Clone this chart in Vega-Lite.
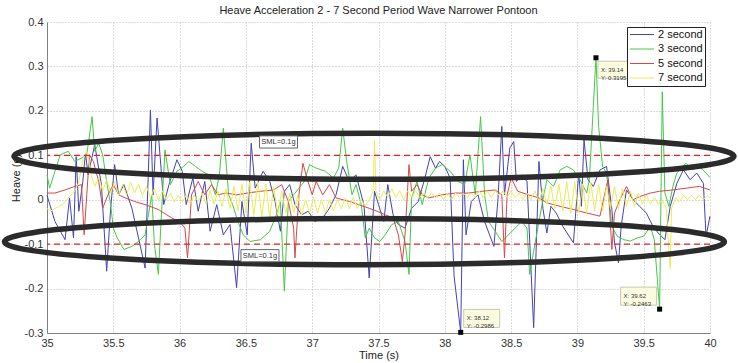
{
 "$schema": "https://vega.github.io/schema/vega-lite/v6.json",
 "width": 663, "height": 311,
 "autosize": {"type": "none"},
 "padding": {"left": 47, "top": 22, "right": 28, "bottom": 30},
 "background": "white",
 "title": {"text": "Heave Acceleration 2 - 7 Second Period Wave Narrower Pontoon", "fontSize": 11, "fontWeight": "normal", "font": "Liberation Sans", "color": "#222", "offset": 0},
 "config": {"view": {"stroke": null}, "font": "Liberation Sans",
  "axis": {"gridDash": [1, 2], "gridColor": "#b8b8b8", "gridWidth": 1, "domainColor": "#808080", "ticks": false, "labelFontSize": 11, "labelColor": "#333", "labelPadding": 4, "titleFontSize": 11, "titleFontWeight": "normal", "titleColor": "#222", "labelFont": "Liberation Sans", "titleFont": "Liberation Sans"}},
 "datasets": {
  "lines": [
{"s":"2 second","t":35.0,"a":0.01},{"s":"2 second","t":35.06,"a":-0.049},{"s":"2 second","t":35.136,"a":-0.09},{"s":"2 second","t":35.17,"a":0.004},{"s":"2 second","t":35.2,"a":-0.086},{"s":"2 second","t":35.22,"a":0.097},{"s":"2 second","t":35.24,"a":-0.026},{"s":"2 second","t":35.27,"a":0.041},{"s":"2 second","t":35.29,"a":0.105},{"s":"2 second","t":35.31,"a":0.056},{"s":"2 second","t":35.36,"a":0.124},{"s":"2 second","t":35.41,"a":0.034},{"s":"2 second","t":35.45,"a":-0.161},{"s":"2 second","t":35.48,"a":-0.019},{"s":"2 second","t":35.51,"a":0.079},{"s":"2 second","t":35.54,"a":0.011},{"s":"2 second","t":35.58,"a":0.034},{"s":"2 second","t":35.64,"a":-0.019},{"s":"2 second","t":35.69,"a":-0.086},{"s":"2 second","t":35.74,"a":-0.154},{"s":"2 second","t":35.78,"a":0.202},{"s":"2 second","t":35.8,"a":0.011},{"s":"2 second","t":35.83,"a":0.184},{"s":"2 second","t":35.86,"a":0.071},{"s":"2 second","t":35.88,"a":-0.011},{"s":"2 second","t":35.92,"a":0.034},{"s":"2 second","t":35.98,"a":0.09},{"s":"2 second","t":36.02,"a":0.064},{"s":"2 second","t":36.05,"a":-0.011},{"s":"2 second","t":36.1,"a":0.049},{"s":"2 second","t":36.14,"a":-0.026},{"s":"2 second","t":36.19,"a":0.041},{"s":"2 second","t":36.23,"a":-0.071},{"s":"2 second","t":36.28,"a":-0.011},{"s":"2 second","t":36.33,"a":-0.079},{"s":"2 second","t":36.38,"a":-0.056},{"s":"2 second","t":36.43,"a":-0.198},{"s":"2 second","t":36.47,"a":-0.004},{"s":"2 second","t":36.51,"a":-0.079},{"s":"2 second","t":36.54,"a":0.127},{"s":"2 second","t":36.57,"a":0.026},{"s":"2 second","t":36.63,"a":0.064},{"s":"2 second","t":36.68,"a":0.041},{"s":"2 second","t":36.72,"a":-0.004},{"s":"2 second","t":36.76,"a":-0.071},{"s":"2 second","t":36.79,"a":0.019},{"s":"2 second","t":36.83,"a":0.034},{"s":"2 second","t":36.87,"a":-0.011},{"s":"2 second","t":36.92,"a":-0.034},{"s":"2 second","t":36.97,"a":-0.026},{"s":"2 second","t":37.02,"a":-0.049},{"s":"2 second","t":37.08,"a":-0.041},{"s":"2 second","t":37.13,"a":-0.019},{"s":"2 second","t":37.18,"a":0.011},{"s":"2 second","t":37.23,"a":0.075},{"s":"2 second","t":37.28,"a":0.041},{"s":"2 second","t":37.33,"a":0.056},{"s":"2 second","t":37.39,"a":-0.011},{"s":"2 second","t":37.43,"a":-0.176},{"s":"2 second","t":37.47,"a":0.019},{"s":"2 second","t":37.5,"a":-0.011},{"s":"2 second","t":37.54,"a":-0.049},{"s":"2 second","t":37.57,"a":0.034},{"s":"2 second","t":37.61,"a":-0.034},{"s":"2 second","t":37.65,"a":-0.056},{"s":"2 second","t":37.7,"a":-0.064},{"s":"2 second","t":37.75,"a":-0.019},{"s":"2 second","t":37.8,"a":-0.004},{"s":"2 second","t":37.85,"a":0.049},{"s":"2 second","t":37.89,"a":0.097},{"s":"2 second","t":37.93,"a":0.071},{"s":"2 second","t":37.96,"a":0.086},{"s":"2 second","t":38.0,"a":0.075},{"s":"2 second","t":38.04,"a":0.049},{"s":"2 second","t":38.07,"a":-0.172},{"s":"2 second","t":38.12,"a":-0.2986},{"s":"2 second","t":38.14,"a":0.09},{"s":"2 second","t":38.16,"a":-0.079},{"s":"2 second","t":38.2,"a":-0.004},{"s":"2 second","t":38.25,"a":0.011},{"s":"2 second","t":38.3,"a":-0.049},{"s":"2 second","t":38.37,"a":-0.105},{"s":"2 second","t":38.4,"a":-0.004},{"s":"2 second","t":38.43,"a":0.165},{"s":"2 second","t":38.45,"a":0.011},{"s":"2 second","t":38.49,"a":0.116},{"s":"2 second","t":38.52,"a":0.131},{"s":"2 second","t":38.54,"a":0.041},{"s":"2 second","t":38.58,"a":0.056},{"s":"2 second","t":38.62,"a":0.041},{"s":"2 second","t":38.67,"a":-0.288},{"s":"2 second","t":38.71,"a":0.086},{"s":"2 second","t":38.74,"a":-0.02},{"s":"2 second","t":38.77,"a":-0.075},{"s":"2 second","t":38.8,"a":-0.015},{"s":"2 second","t":38.84,"a":-0.03},{"s":"2 second","t":38.89,"a":-0.06},{"s":"2 second","t":38.97,"a":-0.097},{"s":"2 second","t":39.01,"a":0.06},{"s":"2 second","t":39.03,"a":-0.015},{"s":"2 second","t":39.05,"a":0.135},{"s":"2 second","t":39.08,"a":0.045},{"s":"2 second","t":39.12,"a":0.03},{"s":"2 second","t":39.17,"a":0.067},{"s":"2 second","t":39.22,"a":0.075},{"s":"2 second","t":39.26,"a":-0.022},{"s":"2 second","t":39.28,"a":-0.097},{"s":"2 second","t":39.31,"a":-0.142},{"s":"2 second","t":39.33,"a":-0.06},{"s":"2 second","t":39.37,"a":0.022},{"s":"2 second","t":39.42,"a":0.0},{"s":"2 second","t":39.47,"a":-0.015},{"s":"2 second","t":39.52,"a":-0.03},{"s":"2 second","t":39.57,"a":-0.06},{"s":"2 second","t":39.61,"a":-0.075},{"s":"2 second","t":39.66,"a":-0.09},{"s":"2 second","t":39.7,"a":-0.015},{"s":"2 second","t":39.75,"a":0.037},{"s":"2 second","t":39.8,"a":0.067},{"s":"2 second","t":39.85,"a":0.045},{"s":"2 second","t":39.9,"a":0.06},{"s":"2 second","t":39.95,"a":0.037},{"s":"2 second","t":39.97,"a":-0.082},{"s":"2 second","t":40.0,"a":-0.037},
{"s":"3 second","t":35.0,"a":0.056},{"s":"3 second","t":35.02,"a":0.026},{"s":"3 second","t":35.06,"a":0.064},{"s":"3 second","t":35.1,"a":0.101},{"s":"3 second","t":35.16,"a":0.109},{"s":"3 second","t":35.21,"a":0.086},{"s":"3 second","t":35.26,"a":0.094},{"s":"3 second","t":35.3,"a":0.101},{"s":"3 second","t":35.34,"a":0.187},{"s":"3 second","t":35.36,"a":0.109},{"s":"3 second","t":35.39,"a":0.127},{"s":"3 second","t":35.42,"a":0.101},{"s":"3 second","t":35.45,"a":0.041},{"s":"3 second","t":35.48,"a":-0.011},{"s":"3 second","t":35.5,"a":-0.064},{"s":"3 second","t":35.53,"a":-0.086},{"s":"3 second","t":35.58,"a":-0.112},{"s":"3 second","t":35.64,"a":-0.105},{"s":"3 second","t":35.69,"a":-0.094},{"s":"3 second","t":35.74,"a":-0.079},{"s":"3 second","t":35.79,"a":0.011},{"s":"3 second","t":35.81,"a":-0.101},{"s":"3 second","t":35.84,"a":-0.168},{"s":"3 second","t":35.86,"a":-0.049},{"s":"3 second","t":35.89,"a":0.112},{"s":"3 second","t":35.93,"a":0.034},{"s":"3 second","t":35.98,"a":0.064},{"s":"3 second","t":36.03,"a":0.075},{"s":"3 second","t":36.07,"a":0.086},{"s":"3 second","t":36.12,"a":0.075},{"s":"3 second","t":36.17,"a":0.064},{"s":"3 second","t":36.22,"a":0.056},{"s":"3 second","t":36.27,"a":0.011},{"s":"3 second","t":36.3,"a":0.056},{"s":"3 second","t":36.33,"a":0.161},{"s":"3 second","t":36.37,"a":0.011},{"s":"3 second","t":36.4,"a":-0.011},{"s":"3 second","t":36.44,"a":-0.049},{"s":"3 second","t":36.48,"a":-0.079},{"s":"3 second","t":36.53,"a":-0.094},{"s":"3 second","t":36.61,"a":-0.09},{"s":"3 second","t":36.68,"a":-0.071},{"s":"3 second","t":36.73,"a":-0.034},{"s":"3 second","t":36.76,"a":-0.004},{"s":"3 second","t":36.78,"a":-0.139},{"s":"3 second","t":36.79,"a":-0.206},{"s":"3 second","t":36.82,"a":-0.004},{"s":"3 second","t":36.86,"a":0.011},{"s":"3 second","t":36.9,"a":0.026},{"s":"3 second","t":36.94,"a":0.041},{"s":"3 second","t":36.98,"a":0.079},{"s":"3 second","t":37.03,"a":0.071},{"s":"3 second","t":37.1,"a":0.064},{"s":"3 second","t":37.16,"a":0.049},{"s":"3 second","t":37.2,"a":0.071},{"s":"3 second","t":37.23,"a":0.161},{"s":"3 second","t":37.26,"a":0.086},{"s":"3 second","t":37.3,"a":0.011},{"s":"3 second","t":37.33,"a":0.034},{"s":"3 second","t":37.37,"a":-0.011},{"s":"3 second","t":37.4,"a":-0.086},{"s":"3 second","t":37.43,"a":-0.064},{"s":"3 second","t":37.47,"a":-0.086},{"s":"3 second","t":37.51,"a":-0.094},{"s":"3 second","t":37.55,"a":-0.079},{"s":"3 second","t":37.6,"a":-0.056},{"s":"3 second","t":37.65,"a":-0.049},{"s":"3 second","t":37.7,"a":-0.094},{"s":"3 second","t":37.73,"a":-0.168},{"s":"3 second","t":37.75,"a":0.004},{"s":"3 second","t":37.79,"a":0.041},{"s":"3 second","t":37.83,"a":-0.011},{"s":"3 second","t":37.88,"a":0.049},{"s":"3 second","t":37.93,"a":0.071},{"s":"3 second","t":37.98,"a":0.079},{"s":"3 second","t":38.04,"a":0.064},{"s":"3 second","t":38.1,"a":0.041},{"s":"3 second","t":38.15,"a":0.034},{"s":"3 second","t":38.19,"a":0.101},{"s":"3 second","t":38.23,"a":0.011},{"s":"3 second","t":38.25,"a":0.101},{"s":"3 second","t":38.27,"a":0.187},{"s":"3 second","t":38.3,"a":0.011},{"s":"3 second","t":38.33,"a":-0.049},{"s":"3 second","t":38.38,"a":-0.071},{"s":"3 second","t":38.43,"a":-0.094},{"s":"3 second","t":38.48,"a":-0.079},{"s":"3 second","t":38.53,"a":-0.064},{"s":"3 second","t":38.58,"a":-0.049},{"s":"3 second","t":38.62,"a":-0.064},{"s":"3 second","t":38.64,"a":-0.168},{"s":"3 second","t":38.67,"a":-0.116},{"s":"3 second","t":38.71,"a":-0.049},{"s":"3 second","t":38.74,"a":0.0},{"s":"3 second","t":38.77,"a":0.045},{"s":"3 second","t":38.82,"a":0.03},{"s":"3 second","t":38.87,"a":0.067},{"s":"3 second","t":38.92,"a":0.075},{"s":"3 second","t":38.97,"a":0.067},{"s":"3 second","t":39.02,"a":0.045},{"s":"3 second","t":39.07,"a":0.015},{"s":"3 second","t":39.09,"a":0.045},{"s":"3 second","t":39.14,"a":0.3195},{"s":"3 second","t":39.16,"a":0.165},{"s":"3 second","t":39.19,"a":0.075},{"s":"3 second","t":39.22,"a":0.06},{"s":"3 second","t":39.26,"a":-0.06},{"s":"3 second","t":39.3,"a":-0.082},{"s":"3 second","t":39.35,"a":-0.09},{"s":"3 second","t":39.4,"a":-0.093},{"s":"3 second","t":39.45,"a":-0.086},{"s":"3 second","t":39.5,"a":-0.082},{"s":"3 second","t":39.55,"a":-0.06},{"s":"3 second","t":39.58,"a":-0.09},{"s":"3 second","t":39.62,"a":-0.2463},{"s":"3 second","t":39.64,"a":0.243},{"s":"3 second","t":39.66,"a":0.015},{"s":"3 second","t":39.69,"a":-0.015},{"s":"3 second","t":39.72,"a":0.03},{"s":"3 second","t":39.75,"a":0.06},{"s":"3 second","t":39.79,"a":0.075},{"s":"3 second","t":39.82,"a":0.082},{"s":"3 second","t":39.87,"a":0.067},{"s":"3 second","t":39.92,"a":0.075},{"s":"3 second","t":39.97,"a":0.06},{"s":"3 second","t":40.0,"a":0.05},
{"s":"5 second","t":35.0,"a":0.015},{"s":"5 second","t":35.06,"a":0.015},{"s":"5 second","t":35.136,"a":0.022},{"s":"5 second","t":35.21,"a":0.03},{"s":"5 second","t":35.26,"a":0.034},{"s":"5 second","t":35.28,"a":-0.079},{"s":"5 second","t":35.3,"a":0.011},{"s":"5 second","t":35.32,"a":0.101},{"s":"5 second","t":35.35,"a":0.086},{"s":"5 second","t":35.39,"a":0.041},{"s":"5 second","t":35.42,"a":-0.019},{"s":"5 second","t":35.46,"a":0.011},{"s":"5 second","t":35.5,"a":0.034},{"s":"5 second","t":35.54,"a":0.011},{"s":"5 second","t":35.59,"a":0.004},{"s":"5 second","t":35.66,"a":-0.004},{"s":"5 second","t":35.74,"a":-0.011},{"s":"5 second","t":35.84,"a":-0.022},{"s":"5 second","t":35.94,"a":-0.041},{"s":"5 second","t":36.0,"a":-0.049},{"s":"5 second","t":36.04,"a":-0.064},{"s":"5 second","t":36.06,"a":-0.131},{"s":"5 second","t":36.09,"a":0.011},{"s":"5 second","t":36.14,"a":0.041},{"s":"5 second","t":36.19,"a":0.011},{"s":"5 second","t":36.24,"a":0.034},{"s":"5 second","t":36.29,"a":0.011},{"s":"5 second","t":36.35,"a":0.015},{"s":"5 second","t":36.43,"a":0.011},{"s":"5 second","t":36.51,"a":0.015},{"s":"5 second","t":36.61,"a":0.019},{"s":"5 second","t":36.71,"a":0.022},{"s":"5 second","t":36.77,"a":0.034},{"s":"5 second","t":36.82,"a":-0.004},{"s":"5 second","t":36.86,"a":-0.064},{"s":"5 second","t":36.87,"a":-0.131},{"s":"5 second","t":36.9,"a":0.011},{"s":"5 second","t":36.93,"a":0.082},{"s":"5 second","t":36.96,"a":0.049},{"s":"5 second","t":37.0,"a":0.011},{"s":"5 second","t":37.03,"a":0.041},{"s":"5 second","t":37.08,"a":0.011},{"s":"5 second","t":37.13,"a":0.034},{"s":"5 second","t":37.18,"a":0.004},{"s":"5 second","t":37.28,"a":-0.004},{"s":"5 second","t":37.39,"a":-0.015},{"s":"5 second","t":37.49,"a":-0.026},{"s":"5 second","t":37.55,"a":-0.034},{"s":"5 second","t":37.61,"a":-0.041},{"s":"5 second","t":37.65,"a":-0.079},{"s":"5 second","t":37.68,"a":-0.139},{"s":"5 second","t":37.7,"a":-0.079},{"s":"5 second","t":37.73,"a":0.079},{"s":"5 second","t":37.75,"a":0.019},{"s":"5 second","t":37.79,"a":0.034},{"s":"5 second","t":37.83,"a":0.011},{"s":"5 second","t":37.88,"a":0.004},{"s":"5 second","t":37.98,"a":0.011},{"s":"5 second","t":38.08,"a":0.015},{"s":"5 second","t":38.18,"a":0.015},{"s":"5 second","t":38.28,"a":0.019},{"s":"5 second","t":38.38,"a":0.022},{"s":"5 second","t":38.43,"a":0.011},{"s":"5 second","t":38.45,"a":-0.131},{"s":"5 second","t":38.47,"a":0.011},{"s":"5 second","t":38.5,"a":0.049},{"s":"5 second","t":38.55,"a":0.019},{"s":"5 second","t":38.63,"a":0.011},{"s":"5 second","t":38.71,"a":0.004},{"s":"5 second","t":38.77,"a":-0.007},{"s":"5 second","t":38.87,"a":-0.015},{"s":"5 second","t":38.97,"a":-0.022},{"s":"5 second","t":39.07,"a":-0.03},{"s":"5 second","t":39.17,"a":-0.037},{"s":"5 second","t":39.23,"a":0.045},{"s":"5 second","t":39.26,"a":-0.112},{"s":"5 second","t":39.28,"a":-0.03},{"s":"5 second","t":39.32,"a":0.0},{"s":"5 second","t":39.37,"a":0.03},{"s":"5 second","t":39.42,"a":0.0},{"s":"5 second","t":39.47,"a":0.007},{"s":"5 second","t":39.55,"a":0.015},{"s":"5 second","t":39.62,"a":0.019},{"s":"5 second","t":39.72,"a":0.022},{"s":"5 second","t":39.82,"a":0.026},{"s":"5 second","t":39.92,"a":0.03},{"s":"5 second","t":40.0,"a":0.022},
{"s":"7 second","t":35.0,"a":-0.02},{"s":"7 second","t":35.03,"a":-0.025},{"s":"7 second","t":35.06,"a":-0.02},{"s":"7 second","t":35.09,"a":-0.015},{"s":"7 second","t":35.12,"a":-0.01},{"s":"7 second","t":35.15,"a":0.0},{"s":"7 second","t":35.18,"a":0.01},{"s":"7 second","t":35.21,"a":0.02},{"s":"7 second","t":35.24,"a":0.04},{"s":"7 second","t":35.27,"a":0.09},{"s":"7 second","t":35.3,"a":0.11},{"s":"7 second","t":35.33,"a":0.06},{"s":"7 second","t":35.36,"a":0.03},{"s":"7 second","t":35.39,"a":0.05},{"s":"7 second","t":35.42,"a":0.02},{"s":"7 second","t":35.45,"a":0.045},{"s":"7 second","t":35.48,"a":0.015},{"s":"7 second","t":35.51,"a":0.04},{"s":"7 second","t":35.54,"a":0.01},{"s":"7 second","t":35.57,"a":0.035},{"s":"7 second","t":35.6,"a":0.01},{"s":"7 second","t":35.63,"a":0.04},{"s":"7 second","t":35.66,"a":0.015},{"s":"7 second","t":35.69,"a":0.035},{"s":"7 second","t":35.72,"a":0.01},{"s":"7 second","t":35.75,"a":0.03},{"s":"7 second","t":35.78,"a":0.005},{"s":"7 second","t":35.81,"a":0.025},{"s":"7 second","t":35.84,"a":0.0},{"s":"7 second","t":35.87,"a":0.02},{"s":"7 second","t":35.9,"a":0.0},{"s":"7 second","t":35.93,"a":0.015},{"s":"7 second","t":35.96,"a":-0.005},{"s":"7 second","t":35.99,"a":0.01},{"s":"7 second","t":36.02,"a":-0.005},{"s":"7 second","t":36.05,"a":0.01},{"s":"7 second","t":36.08,"a":-0.01},{"s":"7 second","t":36.11,"a":0.01},{"s":"7 second","t":36.14,"a":-0.005},{"s":"7 second","t":36.17,"a":0.015},{"s":"7 second","t":36.2,"a":-0.01},{"s":"7 second","t":36.23,"a":0.02},{"s":"7 second","t":36.26,"a":-0.01},{"s":"7 second","t":36.29,"a":0.02},{"s":"7 second","t":36.32,"a":-0.015},{"s":"7 second","t":36.35,"a":0.025},{"s":"7 second","t":36.38,"a":-0.02},{"s":"7 second","t":36.41,"a":0.03},{"s":"7 second","t":36.44,"a":-0.025},{"s":"7 second","t":36.47,"a":0.035},{"s":"7 second","t":36.5,"a":-0.03},{"s":"7 second","t":36.53,"a":0.04},{"s":"7 second","t":36.56,"a":-0.035},{"s":"7 second","t":36.59,"a":0.04},{"s":"7 second","t":36.62,"a":-0.04},{"s":"7 second","t":36.65,"a":0.035},{"s":"7 second","t":36.68,"a":-0.04},{"s":"7 second","t":36.71,"a":0.03},{"s":"7 second","t":36.74,"a":-0.035},{"s":"7 second","t":36.77,"a":0.02},{"s":"7 second","t":36.8,"a":-0.03},{"s":"7 second","t":36.83,"a":0.015},{"s":"7 second","t":36.86,"a":-0.03},{"s":"7 second","t":36.89,"a":0.01},{"s":"7 second","t":36.92,"a":-0.035},{"s":"7 second","t":36.95,"a":0.0},{"s":"7 second","t":36.98,"a":-0.03},{"s":"7 second","t":37.01,"a":0.005},{"s":"7 second","t":37.04,"a":-0.03},{"s":"7 second","t":37.07,"a":0.0},{"s":"7 second","t":37.1,"a":-0.03},{"s":"7 second","t":37.13,"a":0.0},{"s":"7 second","t":37.16,"a":-0.025},{"s":"7 second","t":37.19,"a":0.0},{"s":"7 second","t":37.22,"a":-0.02},{"s":"7 second","t":37.25,"a":0.005},{"s":"7 second","t":37.28,"a":-0.02},{"s":"7 second","t":37.31,"a":0.005},{"s":"7 second","t":37.34,"a":-0.02},{"s":"7 second","t":37.37,"a":0.0},{"s":"7 second","t":37.4,"a":-0.015},{"s":"7 second","t":37.43,"a":0.0},{"s":"7 second","t":37.46,"a":0.02},{"s":"7 second","t":37.47,"a":0.135},{"s":"7 second","t":37.48,"a":0.02},{"s":"7 second","t":37.51,"a":0.0},{"s":"7 second","t":37.54,"a":0.02},{"s":"7 second","t":37.57,"a":0.005},{"s":"7 second","t":37.6,"a":0.025},{"s":"7 second","t":37.63,"a":0.005},{"s":"7 second","t":37.66,"a":0.02},{"s":"7 second","t":37.69,"a":0.0},{"s":"7 second","t":37.72,"a":0.02},{"s":"7 second","t":37.75,"a":0.005},{"s":"7 second","t":37.78,"a":0.02},{"s":"7 second","t":37.81,"a":0.005},{"s":"7 second","t":37.84,"a":0.015},{"s":"7 second","t":37.87,"a":0.005},{"s":"7 second","t":37.9,"a":0.015},{"s":"7 second","t":37.93,"a":0.005},{"s":"7 second","t":37.96,"a":0.015},{"s":"7 second","t":37.99,"a":0.0},{"s":"7 second","t":38.02,"a":0.015},{"s":"7 second","t":38.05,"a":0.0},{"s":"7 second","t":38.08,"a":0.015},{"s":"7 second","t":38.11,"a":0.005},{"s":"7 second","t":38.14,"a":0.015},{"s":"7 second","t":38.17,"a":0.005},{"s":"7 second","t":38.2,"a":0.015},{"s":"7 second","t":38.23,"a":0.005},{"s":"7 second","t":38.26,"a":0.02},{"s":"7 second","t":38.29,"a":0.005},{"s":"7 second","t":38.32,"a":0.02},{"s":"7 second","t":38.35,"a":0.005},{"s":"7 second","t":38.38,"a":0.02},{"s":"7 second","t":38.41,"a":0.01},{"s":"7 second","t":38.44,"a":0.02},{"s":"7 second","t":38.47,"a":0.005},{"s":"7 second","t":38.5,"a":0.02},{"s":"7 second","t":38.53,"a":0.005},{"s":"7 second","t":38.56,"a":0.015},{"s":"7 second","t":38.59,"a":0.0},{"s":"7 second","t":38.62,"a":0.015},{"s":"7 second","t":38.65,"a":0.0},{"s":"7 second","t":38.68,"a":0.02},{"s":"7 second","t":38.71,"a":-0.005},{"s":"7 second","t":38.74,"a":0.025},{"s":"7 second","t":38.77,"a":-0.01},{"s":"7 second","t":38.8,"a":0.03},{"s":"7 second","t":38.83,"a":-0.02},{"s":"7 second","t":38.86,"a":0.035},{"s":"7 second","t":38.89,"a":-0.025},{"s":"7 second","t":38.92,"a":0.04},{"s":"7 second","t":38.95,"a":-0.03},{"s":"7 second","t":38.98,"a":0.04},{"s":"7 second","t":39.01,"a":-0.03},{"s":"7 second","t":39.04,"a":0.035},{"s":"7 second","t":39.07,"a":-0.03},{"s":"7 second","t":39.1,"a":0.04},{"s":"7 second","t":39.13,"a":-0.025},{"s":"7 second","t":39.16,"a":0.035},{"s":"7 second","t":39.19,"a":-0.025},{"s":"7 second","t":39.22,"a":0.03},{"s":"7 second","t":39.25,"a":-0.02},{"s":"7 second","t":39.28,"a":0.03},{"s":"7 second","t":39.31,"a":-0.02},{"s":"7 second","t":39.34,"a":0.025},{"s":"7 second","t":39.37,"a":-0.015},{"s":"7 second","t":39.4,"a":0.02},{"s":"7 second","t":39.43,"a":-0.015},{"s":"7 second","t":39.46,"a":0.015},{"s":"7 second","t":39.49,"a":-0.01},{"s":"7 second","t":39.52,"a":0.01},{"s":"7 second","t":39.55,"a":-0.01},{"s":"7 second","t":39.58,"a":0.005},{"s":"7 second","t":39.61,"a":-0.01},{"s":"7 second","t":39.64,"a":0.0},{"s":"7 second","t":39.67,"a":-0.02},{"s":"7 second","t":39.7,"a":-0.155},{"s":"7 second","t":39.71,"a":-0.02},{"s":"7 second","t":39.74,"a":0.005},{"s":"7 second","t":39.77,"a":-0.005},{"s":"7 second","t":39.8,"a":0.01},{"s":"7 second","t":39.83,"a":0.0},{"s":"7 second","t":39.86,"a":0.01},{"s":"7 second","t":39.89,"a":0.0},{"s":"7 second","t":39.92,"a":0.01},{"s":"7 second","t":39.95,"a":0.0},{"s":"7 second","t":39.98,"a":0.01},{"s":"7 second","t":40.0,"a":0.005}
  ],
  "limits": [{"a": 0.1}, {"a": -0.1}],
  "rings": [{"t": 37.466, "a": 0.0978}, {"t": 37.394, "a": -0.0944}],
  "sml": [{"t": 36.746, "a": 0.130, "lab": "SML=0.1g"}, {"t": 36.606, "a": -0.126, "lab": "SML=0.1g"}],
  "tips": [{"id": 1, "t": 39.14, "a": 0.3195, "lab": ["X: 39.14", "Y: 0.3195"]}, {"id": 2, "t": 38.12, "a": -0.2986, "lab": ["X: 38.12", "Y: -0.2986"]}, {"id": 3, "t": 39.62, "a": -0.2463, "lab": ["X: 39.62", "Y: -0.2463"]}]
 },
 "layer": [
  {
   "data": {"name": "lines"},
   "mark": {"type": "line", "strokeWidth": 1},
   "encoding": {
    "x": {"field": "t", "type": "quantitative", "scale": {"domain": [35, 40], "nice": false, "zero": false},
          "axis": {"title": "Time (s)", "values": [35, 35.5, 36, 36.5, 37, 37.5, 38, 38.5, 39, 39.5, 40], "labelExpr": "'' + datum.value", "labelFlush": false, "titlePadding": 1}},
    "y": {"field": "a", "type": "quantitative", "scale": {"domain": [-0.3, 0.4], "nice": false, "zero": false},
          "axis": {"title": "Heave (g)", "values": [-0.3, -0.2, -0.1, 0, 0.1, 0.2, 0.3, 0.4], "labelExpr": "'' + datum.value", "labelFlush": false, "titlePadding": 3}},
    "color": {"field": "s", "type": "nominal",
              "scale": {"domain": ["2 second", "3 second", "5 second", "7 second"], "range": ["#4343b4", "#45c845", "#d64848", "#ecec5a"]},
              "legend": {"orient": "top-right", "offset": 5, "title": null, "padding": 2, "strokeColor": "#222", "fillColor": "white", "symbolType": "stroke", "symbolSize": 576, "symbolStrokeWidth": 1.2, "clipHeight": 11, "labelFontSize": 11, "labelColor": "#111", "labelOffset": 3, "rowPadding": 2.5, "labelFont": "Liberation Sans"}},
    "detail": {"field": "s"}
   }
  },
  {
   "data": {"name": "limits"},
   "mark": {"type": "rule", "color": "#e02424", "strokeDash": [6, 4], "strokeWidth": 1.2},
   "encoding": {"y": {"field": "a", "type": "quantitative"}}
  },
  {
   "data": {"name": "rings"},
   "mark": {"type": "point", "shape": "M -1 0 C -1 -0.0353 -0.5523 -0.064 0 -0.064 C 0.5523 -0.064 1 -0.0353 1 0 C 1 0.0353 0.5523 0.064 0 0.064 C -0.5523 0.064 -1 0.0353 -1 0 Z", "size": 518400, "filled": false, "stroke": "#2b2b2b", "strokeWidth": 5.5, "opacity": 1},
   "encoding": {"x": {"field": "t", "type": "quantitative"}, "y": {"field": "a", "type": "quantitative"}}
  },
  {
   "data": {"name": "sml"},
   "mark": {"type": "point", "shape": "M -1 -0.32 H 1 V 0.32 H -1 Z", "size": 1444, "filled": true, "fill": "white", "stroke": "#666", "strokeWidth": 1, "opacity": 1},
   "encoding": {"x": {"field": "t", "type": "quantitative"}, "y": {"field": "a", "type": "quantitative"}}
  },
  {
   "data": {"name": "sml"},
   "mark": {"type": "text", "fontSize": 7.5, "color": "#333", "align": "center", "baseline": "middle"},
   "encoding": {"x": {"field": "t", "type": "quantitative"}, "y": {"field": "a", "type": "quantitative"}, "text": {"field": "lab"}}
  },
  {
   "data": {"name": "tips"},
   "transform": [{"filter": "datum.id == 1"}],
   "mark": {"type": "point", "shape": "M -1 -0.5 H 1 V 0.5 H -1 Z", "size": 1156, "filled": true, "fill": "#fbfbe0", "stroke": "#c8c8b0", "strokeWidth": 1, "opacity": 1, "xOffset": 19, "yOffset": 12},
   "encoding": {"x": {"field": "t", "type": "quantitative"}, "y": {"field": "a", "type": "quantitative"}}
  },
  {
   "data": {"name": "tips"},
   "transform": [{"filter": "datum.id == 2"}],
   "mark": {"type": "point", "shape": "M -1 -0.5 H 1 V 0.5 H -1 Z", "size": 1296, "filled": true, "fill": "#fbfbe0", "stroke": "#c8c8b0", "strokeWidth": 1, "opacity": 1, "xOffset": 21, "yOffset": -14},
   "encoding": {"x": {"field": "t", "type": "quantitative"}, "y": {"field": "a", "type": "quantitative"}}
  },
  {
   "data": {"name": "tips"},
   "transform": [{"filter": "datum.id == 3"}],
   "mark": {"type": "point", "shape": "M -1 -0.5 H 1 V 0.5 H -1 Z", "size": 1296, "filled": true, "fill": "#fbfbe0", "stroke": "#c8c8b0", "strokeWidth": 1, "opacity": 1, "xOffset": -21, "yOffset": -13},
   "encoding": {"x": {"field": "t", "type": "quantitative"}, "y": {"field": "a", "type": "quantitative"}}
  },
  {
   "data": {"name": "tips"},
   "transform": [{"filter": "datum.id == 1"}],
   "mark": {"type": "text", "fontSize": 6, "color": "#333", "align": "left", "baseline": "middle", "lineHeight": 8, "xOffset": 5, "yOffset": 12},
   "encoding": {"x": {"field": "t", "type": "quantitative"}, "y": {"field": "a", "type": "quantitative"}, "text": {"field": "lab"}}
  },
  {
   "data": {"name": "tips"},
   "transform": [{"filter": "datum.id == 2"}],
   "mark": {"type": "text", "fontSize": 6, "color": "#333", "align": "left", "baseline": "middle", "lineHeight": 8, "xOffset": 6, "yOffset": -14},
   "encoding": {"x": {"field": "t", "type": "quantitative"}, "y": {"field": "a", "type": "quantitative"}, "text": {"field": "lab"}}
  },
  {
   "data": {"name": "tips"},
   "transform": [{"filter": "datum.id == 3"}],
   "mark": {"type": "text", "fontSize": 6, "color": "#333", "align": "left", "baseline": "middle", "lineHeight": 8, "xOffset": -36, "yOffset": -13},
   "encoding": {"x": {"field": "t", "type": "quantitative"}, "y": {"field": "a", "type": "quantitative"}, "text": {"field": "lab"}}
  },
  {
   "data": {"name": "tips"},
   "mark": {"type": "square", "size": 25, "filled": true, "color": "black", "opacity": 1},
   "encoding": {"x": {"field": "t", "type": "quantitative"}, "y": {"field": "a", "type": "quantitative"}}
  }
 ]
}
